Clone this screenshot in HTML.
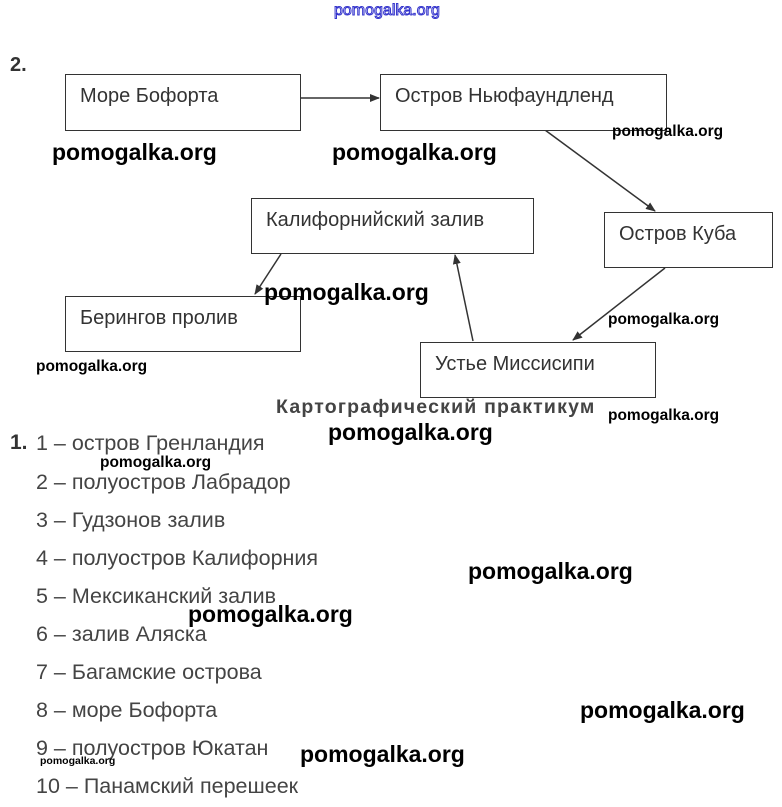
<!DOCTYPE html><html><head><meta charset="utf-8"><style>
body{margin:0;width:782px;height:807px;background:#fff;position:relative;overflow:hidden;font-family:"Liberation Sans",sans-serif}
.a{position:absolute;white-space:nowrap}
.box{position:absolute;border:1px solid #333;box-sizing:border-box;background:#fff}
.box span{position:absolute;left:14px;top:10px;font-size:20px;color:#333}
.w{font-family:"Liberation Sans",sans-serif;font-weight:bold;color:#000}
.wl{font-size:23px}.ws{font-size:15.5px}
.li{position:absolute;left:36px;font-size:21.5px;color:#444}
</style></head><body>
<div class="a" style="left:334px;top:2px;font-size:16px;color:#fff;-webkit-text-stroke:1px #33c">pomogalka.org</div>
<div class="a" style="left:10px;top:54px;font-size:20px;font-weight:bold;color:#333">2.</div>
<svg class="a" style="left:0;top:0" width="782" height="420"><defs><marker id="m" markerWidth="10" markerHeight="10" refX="9" refY="5" orient="auto" markerUnits="userSpaceOnUse"><path d="M0,1 L10,5 L0,9z" fill="#333"/></marker></defs>
<g stroke="#333" stroke-width="1.5" marker-end="url(#m)">
<line x1="300" y1="98" x2="379" y2="98"/><line x1="545" y1="130" x2="655" y2="211"/><line x1="665" y1="268" x2="573" y2="340"/><line x1="473" y1="341" x2="455" y2="255"/><line x1="281" y1="254" x2="255" y2="294"/></g></svg>
<div class="box" style="left:65px;top:74px;width:236px;height:57px"><span>Море Бофорта</span></div>
<div class="box" style="left:380px;top:74px;width:287px;height:57px"><span>Остров Ньюфаундленд</span></div>
<div class="box" style="left:604px;top:212px;width:169px;height:56px"><span>Остров Куба</span></div>
<div class="box" style="left:251px;top:198px;width:283px;height:56px"><span>Калифорнийский залив</span></div>
<div class="box" style="left:65px;top:296px;width:236px;height:56px"><span>Берингов пролив</span></div>
<div class="box" style="left:420px;top:342px;width:236px;height:56px"><span>Устье Миссисипи</span></div>
<div class="a w wl" style="left:52px;top:139px">pomogalka.org</div>
<div class="a w wl" style="left:332px;top:139px">pomogalka.org</div>
<div class="a w ws" style="left:612px;top:123px">pomogalka.org</div>
<div class="a w wl" style="left:264px;top:279px">pomogalka.org</div>
<div class="a w ws" style="left:608px;top:311px">pomogalka.org</div>
<div class="a w ws" style="left:36px;top:358px">pomogalka.org</div>
<div class="a" style="left:276px;top:396px;font-size:19.5px;font-weight:bold;color:#444;letter-spacing:1.2px">Картографический практикум</div>
<div class="a w ws" style="left:608px;top:407px">pomogalka.org</div>
<div class="a w wl" style="left:328px;top:419px">pomogalka.org</div>
<div class="a" style="left:10px;top:431px;font-size:21px;font-weight:bold;color:#333">1.</div>
<div class="li" style="top:431px">1 – остров Гренландия</div>
<div class="a w ws" style="left:100px;top:454px">pomogalka.org</div>
<div class="li" style="top:470px">2 – полуостров Лабрадор</div>
<div class="li" style="top:508px">3 – Гудзонов залив</div>
<div class="li" style="top:546px">4 – полуостров Калифорния</div>
<div class="li" style="top:584px">5 – Мексиканский залив</div>
<div class="li" style="top:622px">6 – залив Аляска</div>
<div class="li" style="top:660px">7 – Багамские острова</div>
<div class="li" style="top:698px">8 – море Бофорта</div>
<div class="li" style="top:736px">9 – полуостров Юкатан</div>
<div class="li" style="top:774px">10 – Панамский перешеек</div>
<div class="a w wl" style="left:468px;top:558px">pomogalka.org</div>
<div class="a w wl" style="left:188px;top:601px">pomogalka.org</div>
<div class="a w wl" style="left:580px;top:697px">pomogalka.org</div>
<div class="a w wl" style="left:300px;top:741px">pomogalka.org</div>
<div class="a w" style="left:40px;top:755px;font-size:10.5px">pomogalka.org</div>
</body></html>
